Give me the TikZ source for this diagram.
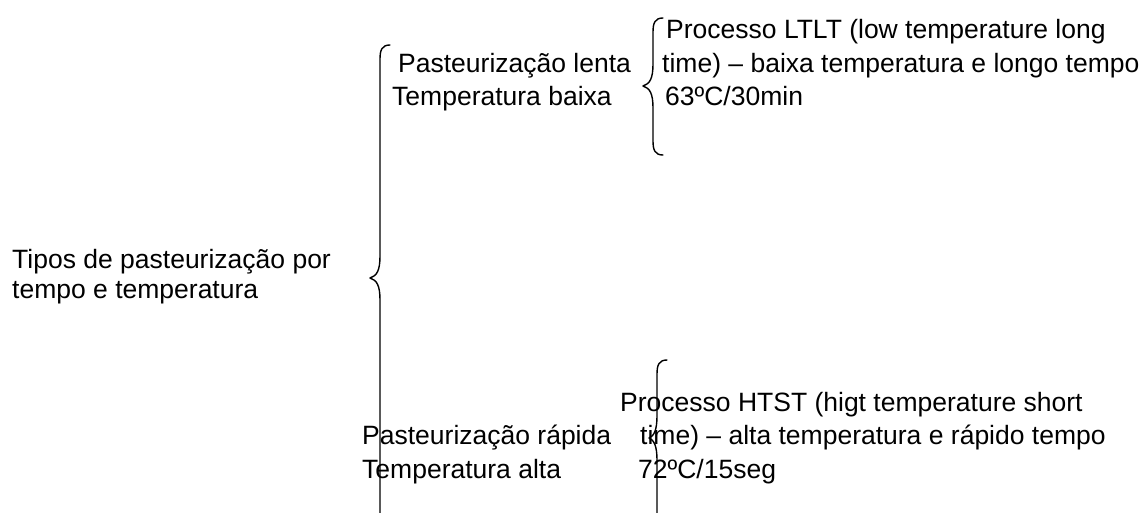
\documentclass[tikz,border=0pt]{standalone}
\usepackage{fontspec}
\setmainfont{Liberation Sans}
\usepackage{tikz}
\usetikzlibrary{positioning,calc}
\tikzset{
  txt/.style ={anchor=base west,inner sep=0pt,font=\fontsize{26.5}{30}\selectfont},
  brc/.style ={draw=black,line width=1.4pt,line cap=round,line join=round},
}
% word-like brace: line x, tip x, top y, tip y, bottom y
\newcommand{\wordbrace}[5]{%
  \draw[brc] ($(#1,#3)+(10,0)$) .. controls ($(#1,#3)+(2,0)$) and ($(#1,#3)+(0,5)$) .. ($(#1,#3)+(0,14)$)
    -- ($(#1,#4)+(0,-22)$) .. controls ($(#1,#4)+(0,-8)$) and ($(#1,#4)+(-3,-2)$) .. (#2,#4)
    .. controls ($(#1,#4)+(-3,2)$) and ($(#1,#4)+(0,8)$) .. ($(#1,#4)+(0,22)$)
    -- ($(#1,#5)+(0,-14)$) .. controls ($(#1,#5)+(0,-5)$) and ($(#1,#5)+(2,0)$) .. ($(#1,#5)+(10,0)$);}

\begin{document}
\begin{tikzpicture}[x=1pt,y=-1pt]
  \useasboundingbox (0,0) rectangle (1145,512);
  % root
  \node[txt](tipos1) at (12,268){Tipos de pasteurização por};
  \node[txt](tipos2) at (12,298){tempo e temperatura};
  \wordbrace{380}{370}{45}{278}{526}
  % slow
  \node[txt](lenta) at (398,72){Pasteurização lenta};
  \node[txt](baixa) at (392,105){Temperatura baixa};
  \wordbrace{653}{643}{18}{86}{155}
  \node[txt](ltlt1) at (666,38){Processo LTLT (low temperature long};
  \node[txt](ltlt2) at (662,72){time) – baixa temperatura e longo tempo};
  \node[txt](ltlt3) at (665,105){63ºC/30min};
  % fast
  \node[txt](rapida) at (362,444){Pasteurização rápida};
  \node[txt](alta) at (362,478){Temperatura alta};
  \wordbrace{657}{649}{360}{438}{530}
  \node[txt](htst1) at (620,411){Processo HTST (higt temperature short};
  \node[txt](htst2) at (640,444){time) – alta temperatura e rápido tempo};
  \node[txt](htst3) at (638,478){72ºC/15seg};
\end{tikzpicture}
\end{document}
